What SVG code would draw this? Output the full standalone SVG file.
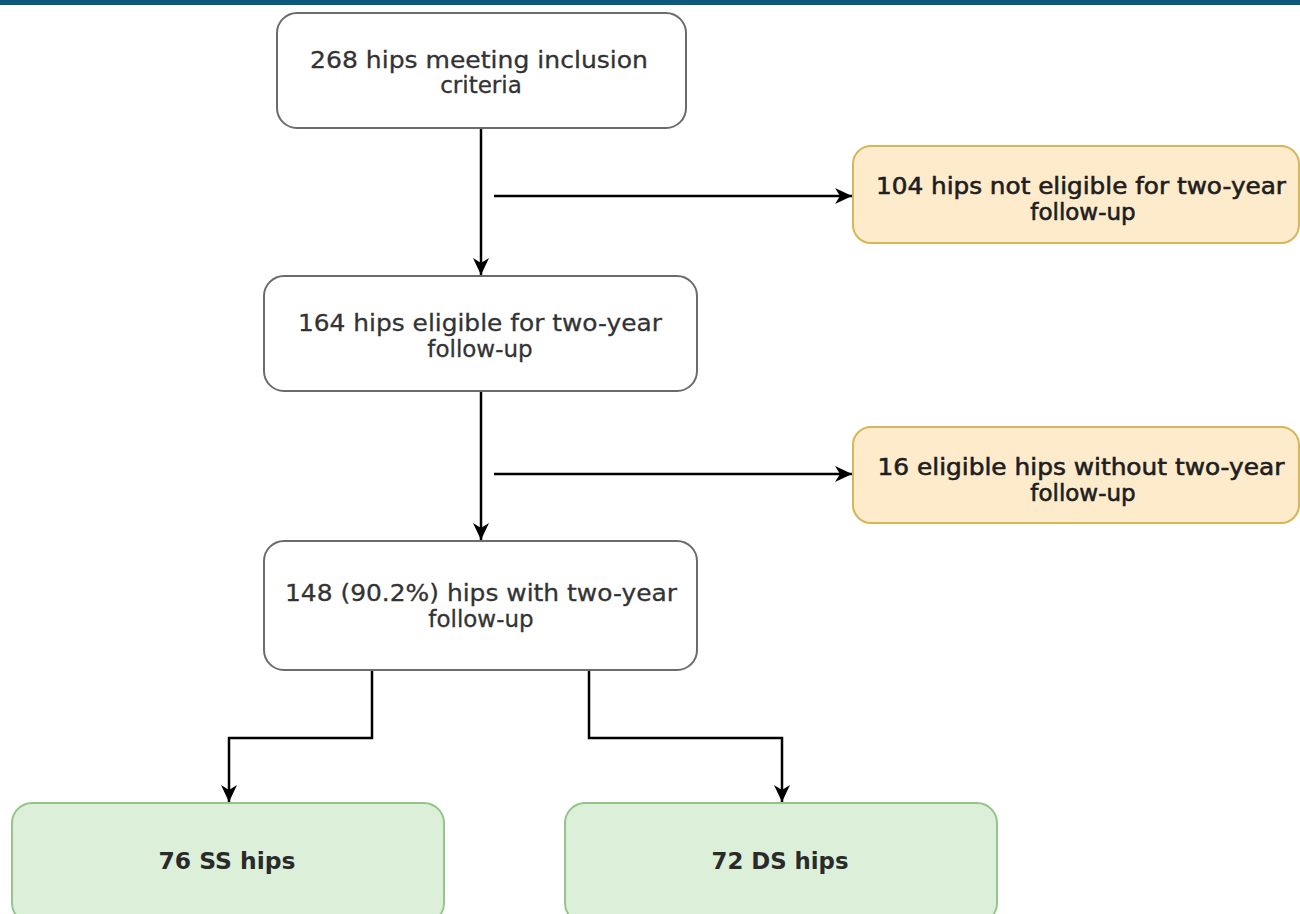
<svg xmlns="http://www.w3.org/2000/svg" width="1300" height="914" viewBox="0 0 1300 914">
<style>
.box{fill:#ffffff;stroke:#6b6b6b;stroke-width:2}
.excl{fill:#fdebcc;stroke:#d6b656;stroke-width:2}
.grp{fill:#dcefd9;stroke:#95c48a;stroke-width:2}
.t{font-family:"DejaVu Sans","Liberation Sans",sans-serif;font-size:23px;fill:#333333;stroke:#333333;stroke-width:0.3;text-anchor:middle}
.td{fill:#1e1e1e;stroke:#1e1e1e;stroke-width:0.6}
.tg{font-weight:bold;fill:#2a2a2a;stroke:none}
.c{fill:none;stroke:#000000;stroke-width:2.5}
</style>
<defs>
<marker id="arr" markerUnits="userSpaceOnUse" markerWidth="20" markerHeight="20" refX="18" refY="10" orient="auto">
<path d="M1,2 L18,10 L1,18 L6,10 z" fill="#000000"/>
</marker>
</defs>
<rect x="0" y="0" width="1300" height="5" fill="#0b5a7e"/>
<g id="connectors">
<path class="c" d="M481,128 V275" marker-end="url(#arr)"/>
<path class="c" d="M494,196 H852" marker-end="url(#arr)"/>
<path class="c" d="M481,391 V540" marker-end="url(#arr)"/>
<path class="c" d="M494,474 H852" marker-end="url(#arr)"/>
<path class="c" d="M372,670 V738 H229 V802" marker-end="url(#arr)"/>
<path class="c" d="M589,670 V738 H782 V802" marker-end="url(#arr)"/>
</g>
<g id="n1">
<rect class="box" x="277" y="13" width="409" height="115" rx="20"/>
<text class="t" x="479" y="68" textLength="338" lengthAdjust="spacingAndGlyphs">268 hips meeting inclusion</text>
<text class="t" x="481" y="93">criteria</text>
</g>
<g id="n2">
<rect class="excl" x="853" y="146" width="446" height="97" rx="18"/>
<text class="t td" x="1081" y="194" textLength="410" lengthAdjust="spacingAndGlyphs">104 hips not eligible for two-year</text>
<text class="t td" x="1083" y="220">follow-up</text>
</g>
<g id="n3">
<rect class="box" x="264" y="276" width="433" height="115" rx="20"/>
<text class="t" x="480" y="331" textLength="364" lengthAdjust="spacingAndGlyphs">164 hips eligible for two-year</text>
<text class="t" x="480" y="357">follow-up</text>
</g>
<g id="n4">
<rect class="excl" x="853" y="427" width="446" height="96" rx="18"/>
<text class="t td" x="1081" y="475" textLength="407" lengthAdjust="spacingAndGlyphs">16 eligible hips without two-year</text>
<text class="t td" x="1083" y="501">follow-up</text>
</g>
<g id="n5">
<rect class="box" x="264" y="541" width="433" height="129" rx="20"/>
<text class="t" x="481" y="601" textLength="392" lengthAdjust="spacingAndGlyphs">148 (90.2%) hips with two-year</text>
<text class="t" x="481" y="627">follow-up</text>
</g>
<g id="n6">
<rect class="grp" x="12" y="803" width="432" height="120" rx="20"/>
<text class="t tg" x="227" y="869" textLength="137" lengthAdjust="spacingAndGlyphs">76 SS hips</text>
</g>
<g id="n7">
<rect class="grp" x="565" y="803" width="432" height="120" rx="20"/>
<text class="t tg" x="780" y="869" textLength="137" lengthAdjust="spacingAndGlyphs">72 DS hips</text>
</g>
</svg>
